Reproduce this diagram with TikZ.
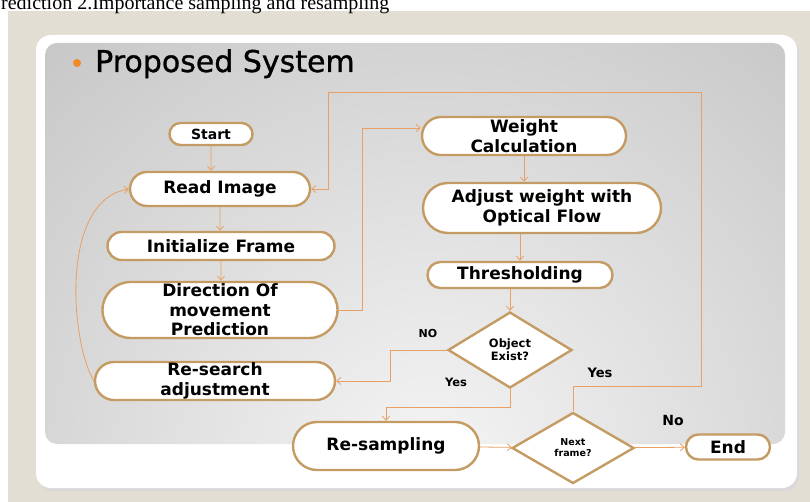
\documentclass[tikz,border=0pt]{standalone}
\usepackage{fontspec}
\setmainfont{DejaVu Sans}
\newfontfamily\capfont{Liberation Serif}
\newfontfamily\headfont{DejaVu Sans}[FakeBold = 1]
\usepackage{xcolor}
\usepackage{tikz}
\usetikzlibrary{calc}
\usetikzlibrary{shapes.misc}
\usetikzlibrary{shapes.geometric}
\usetikzlibrary{arrows.meta}

\definecolor{paper}{HTML}{E3DED3}
\definecolor{rim}{HTML}{C49B62}
\definecolor{wire}{HTML}{E9A064}
\definecolor{dot}{HTML}{F08A24}

\tikzset{
  stage/.style = {shape = rounded rectangle, draw = rim, line width = 2.4pt,
    fill = white, inner sep = 0pt, align = center,
    font = \bfseries\fontsize{17}{19.5}\selectfont},
  choice/.style = {shape = diamond, draw = rim, line width = 2.4pt,
    fill = white, inner sep = 0pt, align = center},
  flow/.style = {wire, line width = .8pt, -{Straight Barb[length = 4pt, width = 7pt]}},
  tag/.style = {inner sep = 0pt, font = \bfseries\fontsize{11.5}{13}\selectfont}
}

\begin{document}
\begin{tikzpicture}[x = 1pt, y = -1pt]
% page
  \useasboundingbox (0,0) rectangle (810,502);
  \clip (0,0) rectangle (810,502);
  \fill[white] (0,0) rectangle (810,502);
  \fill[paper] (8,11) rectangle (810,502);
  \node[anchor = base west, inner sep = 0pt, font = \capfont\fontsize{20}{24}\selectfont]
    (caption) at (1,10) {rediction 2.Importance sampling and resampling};

% slide
  \fill[black!15, rounded corners = 15pt] (38,38) rectangle (799,491);
  \fill[white, rounded corners = 15pt] (36,35) rectangle (797,488);
  \begin{scope}
    \clip[rounded corners = 12pt] (45,43) rectangle (785,444);
    \shade[inner color = gray!8, outer color = gray!70] (430,470) ellipse (1000 and 1000);
  \end{scope}

% title
  \fill[dot] (77,63) circle (4);
  \node[anchor = base west, inner sep = 0pt, font = \headfont\fontsize{30}{36}\selectfont]
    (title) at (95,72) {Proposed System};

% left column
  \node[stage, minimum width = 83, minimum height = 22,
    font = \bfseries\fontsize{14}{16}\selectfont] (start) at (211,134) {Start};
  \node[stage, minimum width = 180, minimum height = 34] (read) at (220,189) {Read Image};
  \node[stage, minimum width = 227, minimum height = 28] (init) at (221,246) {Initialize Frame};
  \node[stage, minimum width = 235, minimum height = 56] (dir) at (220,310)
    {Direction Of\\movement\\Prediction};
  \node[stage, minimum width = 240, minimum height = 38] (research) at (215,381)
    {Re-search\\adjustment};

% right column
  \node[stage, minimum width = 204, minimum height = 38] (weight) at (524,136)
    {Weight\\Calculation};
  \node[stage, minimum width = 238, minimum height = 50] (adjust) at (542,208)
    {Adjust weight with\\Optical Flow};
  \node[stage, minimum width = 185, minimum height = 26] (thresh) at (520,275) {Thresholding};
  \node[choice, minimum width = 124, minimum height = 76,
    font = \bfseries\fontsize{11.5}{13}\selectfont] (exist) at (510,350) {Object\\Exist?};

% bottom row
  \node[stage, minimum width = 186, minimum height = 48] (resample) at (386,446) {Re-sampling};
  \node[choice, minimum width = 122, minimum height = 71,
    font = \bfseries\fontsize{9.5}{11}\selectfont] (next) at (573,448) {Next\\frame?};
  \node[stage, minimum width = 84, minimum height = 25] (stop) at (728,447) {End};

% bends
  \coordinate (dirUp) at (362,128);
  \coordinate (loopTop) at (701,92);
  \coordinate (loopDown) at (328,189);

% arrows
  \draw[flow] (start) -- (start |- read.north);
  \draw[flow] (read) -- (read |- init.north);
  \draw[flow] (init) -- (init |- dir.north);
  \draw[flow] (dir.east) -| (dirUp) -- ([yshift = 8pt]weight.west);
  \draw[flow] (weight.south) -- (weight.south |- adjust.north);
  \draw[flow] (thresh.north |- adjust.south) -- (thresh.north);
  \draw[flow] (exist.north |- thresh.south) -- (exist.north);
  \draw[flow] (exist.west) -- ++(-56,0) |- (research.east);
  \draw[flow] (exist.south) -- ++(0,18) -| (resample.north);
  \draw[flow] (research.west) .. controls (70,340) and (60,200) .. (read.west);
  \draw[flow] (resample) -- (next);
  \draw[flow] (next) -- (stop);
  \draw[flow] (next.north) -- ++(0,-25) -| (loopTop) -| (loopDown) -- (read.east);

% labels
  \node[tag, font = \bfseries\fontsize{11}{13}\selectfont] (noObj) at (428,333) {NO};
  \node[tag] (yesObj) at (456,382) {Yes};
  \node[tag, font = \bfseries\fontsize{13}{15}\selectfont] (yesNext) at (600,373) {Yes};
  \node[tag, font = \bfseries\fontsize{14}{16}\selectfont] (noNext) at (673,420) {No};

\end{tikzpicture}
\end{document}
